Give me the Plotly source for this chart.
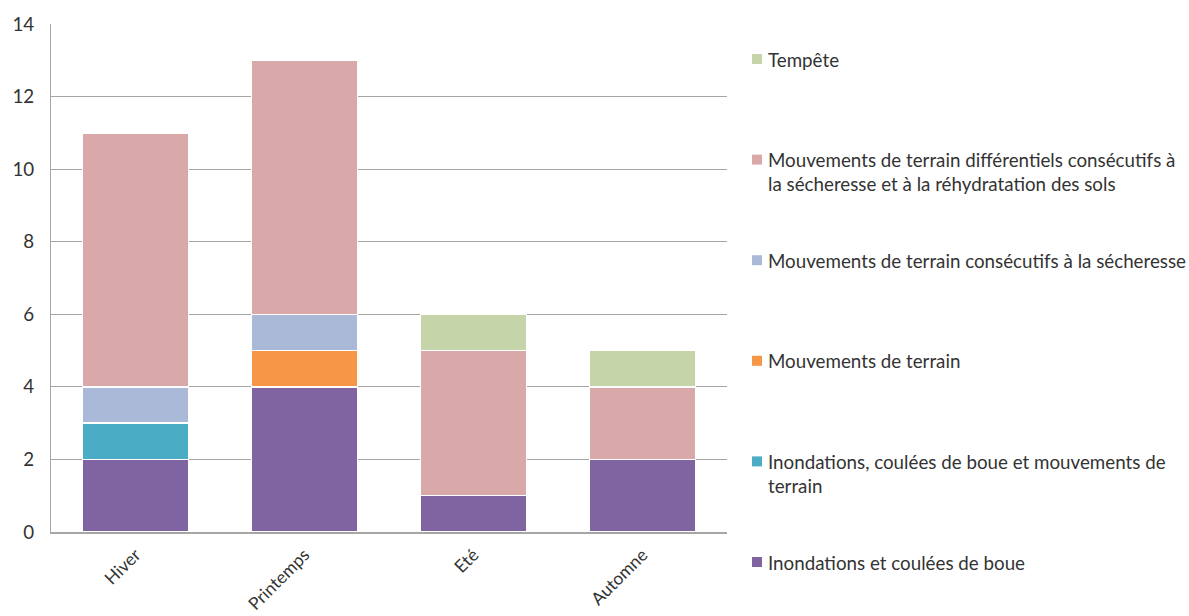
import plotly.graph_objects as go

# Saisons (catégories) et nombre d'arrêtés par type de catastrophe
saisons = ["Hiver", "Printemps", "Eté", "Automne"]

inondations_boue = [2, 4, 1, 2]
inondations_boue_mvt = [1, 0, 0, 0]
mouvements_terrain = [0, 1, 0, 0]
mvt_secheresse = [1, 1, 0, 0]
mvt_differentiels = [7, 7, 4, 2]
tempete = [0, 0, 1, 1]

series = [
    ("Inondations et coulées de boue", inondations_boue, "#8064A2"),
    ("Inondations, coulées de boue et mouvements de<br>terrain", inondations_boue_mvt, "#4BACC6"),
    ("Mouvements de terrain", mouvements_terrain, "#F79646"),
    ("Mouvements de terrain consécutifs à la sécheresse", mvt_secheresse, "#AAB9D7"),
    ("Mouvements de terrain différentiels consécutifs à<br>la sécheresse et à la réhydratation des sols",
     mvt_differentiels, "#D9A9A9"),
    ("Tempête", tempete, "#C5D5A9"),
]

FONT = "Lato"
TXT = "#333333"
FS = 18.75

W, H = 1189, 616
ML, MR, MT, MB = 51, 462, 24, 84
PW, PH = W - ML - MR, H - MT - MB


def px_x(px):
    return (px - ML) / PW


def px_y(py):
    return (H - MB - py) / PH


fig = go.Figure()
for nom, valeurs, couleur in series:
    fig.add_trace(go.Bar(
        x=saisons,
        y=valeurs,
        name=nom.replace("<br>", " "),
        showlegend=False,
        marker=dict(color=couleur, line=dict(color="white", width=1.5)),
    ))

# Légende à droite : une entrée tous les ~100 px, de haut en bas (ordre inverse de l'empilement)
annotations, shapes = [], []
LEG_TOP, LEG_STEP = 59, 100.6
for k, (nom, _, couleur) in enumerate(reversed(series)):
    cy = LEG_TOP + k * LEG_STEP
    shapes.append(dict(
        type="rect", xref="paper", yref="paper",
        x0=px_x(752), x1=px_x(762), y0=px_y(cy + 5), y1=px_y(cy - 5),
        fillcolor=couleur, line=dict(width=0),
    ))
    annotations.append(dict(
        xref="paper", yref="paper",
        x=px_x(766), y=px_y(cy - 13.5),
        xanchor="left", yanchor="top", align="left",
        text=nom, showarrow=False,
        font=dict(family=FONT, size=FS, color=TXT),
    ))

fig.update_layout(
    barmode="stack",
    bargap=0.37,
    width=W,
    height=H,
    margin=dict(l=ML, r=MR, t=MT, b=MB),
    paper_bgcolor="white",
    plot_bgcolor="white",
    font=dict(family=FONT, size=FS, color=TXT),
    showlegend=False,
    annotations=annotations,
    shapes=shapes,
)

fig.update_yaxes(
    range=[0, 14],
    dtick=2,
    showgrid=True,
    gridcolor="#A6A6A6",
    gridwidth=1,
    showline=True,
    linecolor="#A6A6A6",
    linewidth=1,
    zeroline=False,
    ticks="",
    automargin=False,
    ticklabelstandoff=12,
    tickfont=dict(family=FONT, size=FS, color=TXT),
)
fig.update_xaxes(
    showline=True,
    linecolor="#A6A6A6",
    linewidth=1.5,
    tickangle=-45,
    ticks="",
    automargin=False,
    ticklabelstandoff=4,
    tickfont=dict(family=FONT, size=17.5, color=TXT),
)

fig.write_html("out.html")
